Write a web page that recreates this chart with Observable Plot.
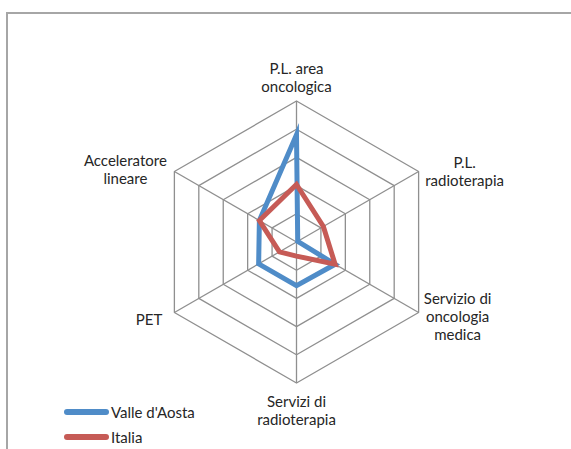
<!DOCTYPE html>
<html>
<head>
<meta charset="utf-8">
<script src="https://cdn.jsdelivr.net/npm/d3@7"></script>
<script src="https://cdn.jsdelivr.net/npm/@observablehq/plot@0.6"></script>
<style>
  html, body { margin: 0; padding: 0; background: #fff; }
  #wrap { position: relative; width: 571px; height: 449px; overflow: hidden; font-family: Lato, "Open Sans", sans-serif; }
  #frame { position: absolute; left: 6px; top: 12px; width: 600px; height: 500px; border-top: 2px solid #a6a6a6; border-left: 2px solid #a6a6a6; }
  #chart { position: absolute; left: 0; top: 0; }
  #legend { position: absolute; left: 63px; top: 399px; font-size: 15px; color: #262626; }
  .row { display: flex; align-items: center; height: 25px; }
  .row svg { display: block; margin-right: 1px; }
</style>
</head>
<body>
<div id="wrap">
  <div id="frame"></div>
  <div id="chart"></div>
  <div id="legend"></div>
</div>
<script>
// ---- data ----
const axes = ["P.L. area oncologica", "P.L. radioterapia", "Servizio di oncologia medica", "Servizi di radioterapia", "PET", "Acceleratore lineare"];
const axisLabels = ["P.L. area\noncologica", "P.L.\nradioterapia", "Servizio di\noncologia\nmedica", "Servizi di\nradioterapia", "PET", "Acceleratore\nlineare"];
const valleDAosta = [3.8, 0.05, 1.58, 1.55, 1.55, 1.52];
const italia = [2.04, 1.1, 1.58, 0.5, 0.7, 1.52];
const seriesNames = ["Valle d'Aosta", "Italia"];
const ringLevels = [1, 2, 3, 4, 5];
const maxValue = 5;

// ---- styles ----
const colors = {"Valle d'Aosta": "#4F8CC8", "Italia": "#C65B56"};
const gridColor = "#8f8f8f";
const W = 571, H = 449;
const cx = 296, cy = 241.5, unitPx = 28.2;   // layout of the radar in pixels

const n = axes.length;
const ang = i => (i * 2 * Math.PI) / n;
const px = (r, i) => r * Math.sin(ang(i));
const py = (r, i) => r * Math.cos(ang(i));

// rings
const rings = [];
for (const lv of ringLevels) for (let i = 0; i < n; i++) rings.push({lv, x: px(lv, i), y: py(lv, i)});
// spokes
const spokes = axes.map((a, i) => ({x1: 0, y1: 0, x2: px(maxValue, i), y2: py(maxValue, i)}));
// series
const series = [];
[[seriesNames[0], valleDAosta], [seriesNames[1], italia]].forEach(([name, vals]) => {
  vals.forEach((v, i) => series.push({name, axis: axes[i], x: px(v, i), y: py(v, i)}));
});
// labels, placed at the outer vertex with pixel offsets
const labelStyle = [
  {dx: 0, dy: -23.5, anchor: "middle"},
  {dx: 46, dy: 0, anchor: "middle"},
  {dx: 39, dy: 3.5, anchor: "middle"},
  {dx: 0, dy: 27, anchor: "middle"},
  {dx: -12, dy: 7, anchor: "end"},
  {dx: -49, dy: -2.5, anchor: "middle"}
];
const labels = axisLabels.map((t, i) => ({t, x: px(maxValue, i), y: py(maxValue, i), ...labelStyle[i]}));

const xDomain = [(0 - cx) / unitPx, (W - cx) / unitPx];
const yDomain = [-(H - cy) / unitPx, cy / unitPx];

const plot = Plot.plot({
  width: W, height: H,
  margin: 0,
  x: {domain: xDomain, range: [0, W], axis: null},
  y: {domain: yDomain, range: [H, 0], axis: null},
  style: {background: "transparent", fontFamily: "Lato, 'Open Sans', sans-serif"},
  marks: [
    Plot.line(rings, {x: "x", y: "y", z: "lv", curve: "linear-closed", stroke: gridColor, strokeWidth: 1.3}),
    Plot.link(spokes, {x1: "x1", y1: "y1", x2: "x2", y2: "y2", stroke: gridColor, strokeWidth: 1.3}),
    Plot.line(series, {x: "x", y: "y", z: "name", curve: "linear-closed",
      stroke: d => colors[d.name], strokeWidth: 5, strokeLinejoin: "miter", strokeMiterlimit: 6}),
    ...labels.map(l => Plot.text([l], {x: "x", y: "y", text: "t", dx: l.dx, dy: l.dy, textAnchor: l.anchor,
      lineAnchor: "middle", lineHeight: 1.2, fontSize: 15, fill: "#262626"}))
  ]
});
document.getElementById("chart").appendChild(plot);

// legend
const legend = document.getElementById("legend");
seriesNames.forEach(name => {
  const row = document.createElement("div");
  row.className = "row";
  row.innerHTML = `<svg width="47" height="10"><line x1="4" y1="5" x2="43" y2="5" stroke="${colors[name]}" stroke-width="6" stroke-linecap="round"/></svg><span>${name}</span>`;
  legend.appendChild(row);
});
</script>
</body>
</html>
